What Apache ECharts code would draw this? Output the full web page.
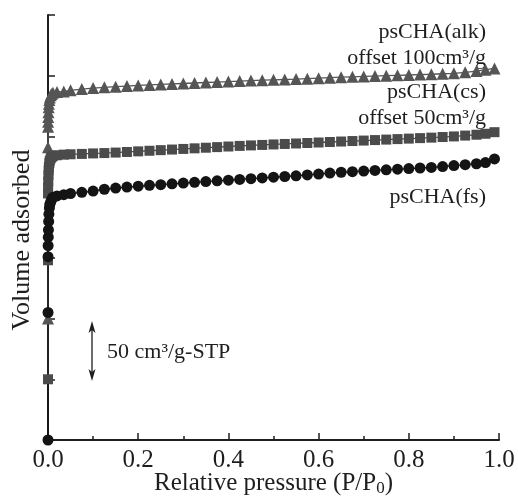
<!DOCTYPE html>
<html>
<head>
<meta charset="utf-8">
<script src="https://cdn.jsdelivr.net/npm/echarts@6/dist/echarts.min.js"></script>
<style>
  html, body { margin: 0; padding: 0; background: #fff; }
  #chart { width: 518px; height: 498px; }
</style>
</head>
<body>
<div id="chart"></div>
<script>
// relative pressure P/P0, shared by the three isotherms
const pressure = [
  0, 0.00005, 0.0001, 0.0003, 0.0006, 0.001, 0.0015, 0.002, 0.003, 0.004, 0.006, 0.008, 0.011,
  0.02, 0.035, 0.05, 0.075, 0.1, 0.125, 0.15, 0.175, 0.2, 0.225, 0.25, 0.275, 0.3, 0.325, 0.35,
  0.375, 0.4, 0.425, 0.45, 0.475, 0.5, 0.525, 0.55, 0.575, 0.6, 0.625, 0.65, 0.675, 0.7, 0.725,
  0.75, 0.775, 0.8, 0.825, 0.85, 0.875, 0.9, 0.925, 0.95, 0.97, 0.99
];

// volume adsorbed, cm3/g-STP (before offset)
const fsVolume = [
  0, 105, 151, 160, 167, 173, 180, 186, 191, 194, 196, 198, 200,
  201, 202, 203, 204, 205, 206.5, 207.5, 208.3, 209, 209.7, 210.3, 211, 211.6, 212.2, 212.8,
  213.4, 214, 214.6, 215.2, 215.8, 216.4, 217, 217.6, 218.3, 219, 219.8, 220.5, 221, 221.5, 222,
  222.5, 223, 223.5, 224, 224.5, 225.2, 226, 226.7, 227.5, 228.5, 231.5
];
const csVolume = [
  0, 98, 153, 158, 163, 168, 172, 175, 178, 180, 182, 183, 184,
  184.5, 185, 185.3, 185.6, 186, 186.3, 186.7, 187.2, 187.7, 188.2, 188.7, 189.2, 189.7, 190.2, 190.7,
  191.2, 191.7, 192.2, 192.6, 193, 193.4, 193.8, 194.2, 194.6, 195, 195.4, 195.8, 196.2, 196.6, 197,
  197.4, 197.8, 198.2, 198.6, 199, 199.5, 200, 200.7, 201.4, 202.2, 203.5
];
const alkVolume = [
  0, 141, 158, 162, 166, 170, 174, 177, 180, 182, 184, 185, 186,
  186.5, 187, 188, 189, 189.8, 190.4, 191, 191.5, 192, 192.4, 192.8, 193.2, 193.6, 194, 194.4,
  194.8, 195.2, 195.6, 196, 196.3, 196.6, 196.9, 197.2, 197.6, 198, 198.4, 198.8, 199.1, 199.4, 199.7,
  200, 200.3, 200.6, 200.9, 201.2, 201.6, 202, 202.8, 203.8, 205, 206
];

const offsets = { fs: 0, cs: 50, alk: 100 };
const xTicks = [0, 0.2, 0.4, 0.6, 0.8, 1.0];

const FONT = 'Liberation Serif';
const INK = '#1e1e1e';

const toPoints = (vals, off) => pressure.map((p, i) => [p, vals[i] + off]);

const chart = echarts.init(document.getElementById('chart'));

chart.setOption({
  animation: false,
  grid: { left: 48, right: 19, top: 15, bottom: 58, outerBoundsMode: 'none', containLabel: false },
  xAxis: {
    type: 'value',
    min: 0,
    max: 1,
    interval: 0.2,
    name: 'Relative pressure (P/P{sub|0})',
    nameLocation: 'middle',
    nameGap: 29,
    nameMoveOverlap: false,
    nameTextStyle: {
      fontFamily: FONT, fontSize: 25, color: INK, lineHeight: 28,
      rich: { sub: { fontFamily: FONT, fontSize: 17, color: INK, lineHeight: 12, verticalAlign: 'bottom' } }
    },
    axisLine: { lineStyle: { color: INK, width: 2 } },
    axisTick: { inside: true, length: 7, lineStyle: { color: INK, width: 1.5 } },
    minorTick: { show: true, splitNumber: 2, length: 4, lineStyle: { color: INK, width: 1.5 } },
    splitLine: { show: false },
    axisLabel: {
      fontFamily: FONT, fontSize: 25, color: INK, margin: 8,
      formatter: v => v.toFixed(1),
      customValues: xTicks
    }
  },
  yAxis: {
    type: 'value',
    min: 0,
    max: 350,
    interval: 50,
    axisLine: { show: true, lineStyle: { color: INK, width: 2 } },
    axisTick: { show: true, inside: true, length: 7, lineStyle: { color: INK, width: 1.5 } },
    axisLabel: { show: false },
    splitLine: { show: false }
  },
  series: [
    {
      name: 'psCHA(alk)',
      type: 'line',
      data: toPoints(alkVolume, offsets.alk),
      symbol: 'triangle',
      symbolSize: 12,
      itemStyle: { color: '#555555' },
      lineStyle: { color: '#555555', width: 1.3 }
    },
    {
      name: 'psCHA(cs)',
      type: 'line',
      data: toPoints(csVolume, offsets.cs),
      symbol: 'rect',
      symbolSize: 10,
      itemStyle: { color: '#4b4b4b' },
      lineStyle: { color: '#4b4b4b', width: 1.3 }
    },
    {
      name: 'psCHA(fs)',
      type: 'line',
      data: toPoints(fsVolume, offsets.fs),
      symbol: 'circle',
      symbolSize: 11,
      itemStyle: { color: '#141414' },
      lineStyle: { color: '#141414', width: 1.3 }
    }
  ],
  graphic: [
    {
      type: 'text', x: 22, y: 240, rotation: Math.PI / 2,
      style: { text: 'Volume adsorbed', font: '26px "Liberation Serif"', fill: INK, textAlign: 'center', textVerticalAlign: 'middle' }
    },
    { type: 'text', x: 486, y: 32, style: { text: 'psCHA(alk)', font: '22px "Liberation Serif"', fill: INK, textAlign: 'right', textVerticalAlign: 'middle' } },
    { type: 'text', x: 486, y: 58, style: { text: 'offset 100cm³/g', font: '22px "Liberation Serif"', fill: INK, textAlign: 'right', textVerticalAlign: 'middle' } },
    { type: 'text', x: 486, y: 92, style: { text: 'psCHA(cs)', font: '22px "Liberation Serif"', fill: INK, textAlign: 'right', textVerticalAlign: 'middle' } },
    { type: 'text', x: 486, y: 118, style: { text: 'offset 50cm³/g', font: '22px "Liberation Serif"', fill: INK, textAlign: 'right', textVerticalAlign: 'middle' } },
    { type: 'text', x: 486, y: 197, style: { text: 'psCHA(fs)', font: '22px "Liberation Serif"', fill: INK, textAlign: 'right', textVerticalAlign: 'middle' } },
    { type: 'text', x: 107, y: 352, style: { text: '50 cm³/g-STP', font: '22px "Liberation Serif"', fill: INK, textAlign: 'left', textVerticalAlign: 'middle' } },
    // scale bar arrow
    { type: 'line', shape: { x1: 92, y1: 324, x2: 92, y2: 378 }, style: { stroke: INK, lineWidth: 1.3 } },
    { type: 'polygon', shape: { points: [[92, 321], [88.5, 333], [92, 330], [95.5, 333]] }, style: { fill: INK } },
    { type: 'polygon', shape: { points: [[92, 381], [88.5, 369], [92, 372], [95.5, 369]] }, style: { fill: INK } }
  ]
});
</script>
</body>
</html>
